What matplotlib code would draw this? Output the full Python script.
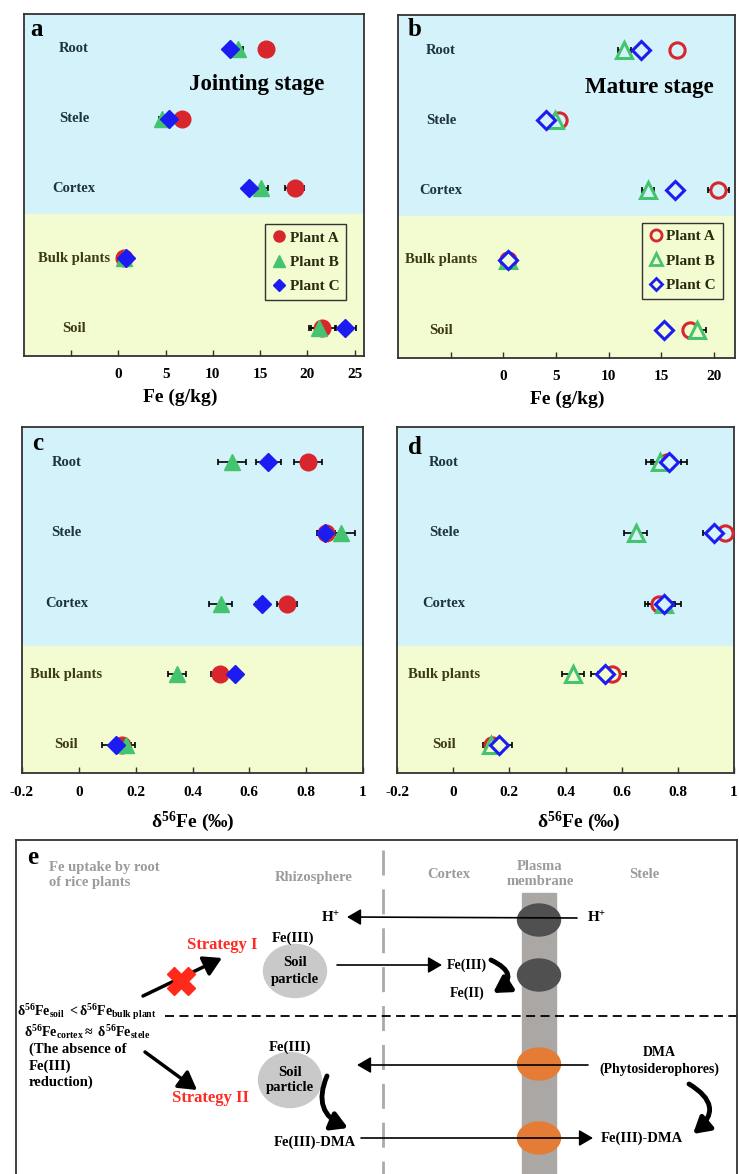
import matplotlib
matplotlib.use('Agg')
import matplotlib.pyplot as plt
from matplotlib.lines import Line2D
from matplotlib.patches import Ellipse, Rectangle, FancyArrowPatch

# categories (top to bottom)
categories = ['Root', 'Stele', 'Cortex', 'Bulk plants', 'Soil']
plants = ['Plant A', 'Plant B', 'Plant C']

# a: Fe (g/kg), jointing stage
fe_joint_A = [15.6, 6.7, 18.65, 0.64, 21.6]
fe_joint_A_err = [0.5, 0.4, 1.0, 0.3, 1.4]
fe_joint_B = [12.7, 4.6, 15.1, 0.6, 21.2]
fe_joint_B_err = [0.5, 0.3, 0.7, 0.2, 0.8]
fe_joint_C = [11.8, 5.3, 13.8, 0.85, 24.0]
fe_joint_C_err = [0.4, 0.3, 0.4, 0.2, 1.1]

# b: Fe (g/kg), mature stage
fe_mature_A = [16.5, 5.3, 20.4, 0.42, 17.7]
fe_mature_A_err = [0.4, 0.3, 1.0, 0.2, 0.5]
fe_mature_B = [11.5, 4.9, 13.75, 0.4, 18.4]
fe_mature_B_err = [0.6, 0.3, 0.6, 0.2, 0.8]
fe_mature_C = [13.1, 4.1, 16.3, 0.42, 15.3]
fe_mature_C_err = [0.3, 0.3, 0.6, 0.2, 0.5]

# c: d56Fe, jointing stage
d56_joint_A = [0.806, 0.87, 0.734, 0.496, 0.153]
d56_joint_A_err = [0.05, 0.03, 0.035, 0.03, 0.03]
d56_joint_B = [0.538, 0.922, 0.499, 0.346, 0.167]
d56_joint_B_err = [0.049, 0.05, 0.04, 0.032, 0.03]
d56_joint_C = [0.667, 0.868, 0.644, 0.55, 0.13]
d56_joint_C_err = [0.045, 0.03, 0.02, 0.02, 0.05]

# d: d56Fe, mature stage
d56_mature_A = [0.76, 0.968, 0.733, 0.567, 0.14]
d56_mature_A_err = [0.05, 0.03, 0.05, 0.05, 0.03]
d56_mature_B = [0.737, 0.65, 0.749, 0.427, 0.135]
d56_mature_B_err = [0.05, 0.04, 0.04, 0.04, 0.03]
d56_mature_C = [0.768, 0.928, 0.752, 0.54, 0.164]
d56_mature_C_err = [0.065, 0.04, 0.06, 0.05, 0.045]

fe_ticks_a = [-5, 0, 5, 10, 15, 20, 25]
fe_ticklabels_a = ['', '0', '5', '10', '15', '20', '25']
fe_ticks_b = [-5, 0, 5, 10, 15, 20]
fe_ticklabels_b = ['', '0', '5', '10', '15', '20']
d56_ticks = [-0.2, 0, 0.2, 0.4, 0.6, 0.8, 1.0]
d56_ticklabels = ['-0.2', '0', '0.2', '0.4', '0.6', '0.8', '1']

colors = ['#d8262c', '#44c46e', '#1c1cf2']
markers = ['o', '^', 'D']
blue_bg = '#d3f2fa'
yellow_bg = '#f3fbd0'

plt.rcParams['font.family'] = ['Liberation Serif', 'DejaVu Serif']
plt.rcParams['font.weight'] = 'bold'
plt.rcParams['axes.labelweight'] = 'bold'
plt.rcParams['mathtext.fontset'] = 'custom'
plt.rcParams['mathtext.rm'] = 'Liberation Serif:bold'
plt.rcParams['mathtext.bf'] = 'Liberation Serif:bold'
plt.rcParams['mathtext.it'] = 'Liberation Serif:italic:bold'

fig = plt.figure(figsize=(7.39, 11.74), dpi=100)


def panel(rect, series, errs, filled, xlim, ticks, ticklabels, split, letter,
          letter_pos, stage, stage_pos, leg_pos, xlabel, xlabel_pos, cat_x):
    ax = fig.add_axes(rect)
    ypos = list(range(len(categories) - 1, -1, -1))
    ax.set_xticks(ticks)
    ax.set_xticklabels(ticklabels)
    ax.set_xlim(*xlim)
    ax.set_ylim(-0.4, 4.5)
    ax.axhspan(split, 4.5, color=blue_bg, zorder=0)
    ax.axhspan(-0.4, split, color=yellow_bg, zorder=0)
    for i in range(3):
        ax.errorbar(series[i], ypos, xerr=errs[i], fmt='none', ecolor='black',
                    elinewidth=1.2, capsize=2.5, capthick=1.2, zorder=2)
        if filled:
            ax.plot(series[i], ypos, ls='none', marker=markers[i], color=colors[i],
                    ms=12 if i < 2 else 9.5, zorder=3 + i)
        else:
            for upper, bg in [(True, blue_bg), (False, yellow_bg)]:
                xs = [x for x, y in zip(series[i], ypos) if (y > split) == upper]
                ys = [y for y in ypos if (y > split) == upper]
                ax.plot(xs, ys, ls='none', marker=markers[i], mfc=bg,
                        mec=colors[i], mew=2.2, ms=11 if i < 2 else 9, zorder=3 + i)
    for y, c in zip(ypos, categories):
        ax.text(cat_x, y, c, transform=ax.get_yaxis_transform(), ha='center',
                va='center', fontsize=10.5,
                color='#1d3340' if y > split else '#3d3b12')
    ax.set_yticks([])
    ax.tick_params(axis='x', direction='in', length=4, width=1, color='#333333',
                   labelsize=11, pad=9)
    for s in ax.spines.values():
        s.set_color('#333333')
        s.set_linewidth(1.3)
    ax.set_xlabel(xlabel, fontsize=14)
    ax.xaxis.set_label_coords(*xlabel_pos)
    ax.text(*letter_pos, letter, transform=ax.transAxes, fontsize=18,
            ha='center', va='center')
    if stage:
        ax.text(*stage_pos, stage, transform=ax.transAxes, fontsize=16.5,
                ha='center', va='center')
    if leg_pos is not None:
        if filled:
            handles = [Line2D([], [], ls='none', marker=markers[i], color=colors[i],
                              ms=8 if i < 2 else 6) for i in range(3)]
        else:
            handles = [Line2D([], [], ls='none', marker=markers[i], mfc='none',
                              mec=colors[i], mew=2, ms=8 if i < 2 else 6)
                       for i in range(3)]
        leg = ax.legend(handles, plants, loc='upper left', bbox_to_anchor=leg_pos,
                        borderaxespad=0, fontsize=11, handlelength=0.9,
                        handletextpad=0.25, labelspacing=0.7, borderpad=0.45,
                        fancybox=False, framealpha=1, facecolor=yellow_bg,
                        edgecolor='#333333')
        leg.get_frame().set_linewidth(1.0)
        for t in leg.get_texts():
            t.set_color('#2a2a10')
    return ax


panel([24 / 739, 1 - 356 / 1174, 340 / 739, 342 / 1174],
      [fe_joint_A, fe_joint_B, fe_joint_C],
      [fe_joint_A_err, fe_joint_B_err, fe_joint_C_err], True,
      (-10, 26), fe_ticks_a, fe_ticklabels_a, 1.63, 'a', (0.038, 0.956),
      'Jointing stage', (0.685, 0.795), (0.709, 0.386), 'Fe (g/kg)',
      (0.459, -0.095), 0.147)

panel([398 / 739, 1 - 358 / 1174, 337 / 739, 343 / 1174],
      [fe_mature_A, fe_mature_B, fe_mature_C],
      [fe_mature_A_err, fe_mature_B_err, fe_mature_C_err], False,
      (-10, 22), fe_ticks_b, fe_ticklabels_b, 1.63, 'b', (0.049, 0.959),
      'Mature stage', (0.745, 0.79), (0.724, 0.394), 'Fe (g/kg)',
      (0.503, -0.095), 0.128)

panel([22 / 739, 1 - 773 / 1174, 341 / 739, 346 / 1174],
      [d56_joint_A, d56_joint_B, d56_joint_C],
      [d56_joint_A_err, d56_joint_B_err, d56_joint_C_err], True,
      (-0.2, 1.0), d56_ticks, d56_ticklabels, 1.4, 'c', (0.045, 0.952),
      None, None, None, r'$\mathrm{δ^{56}Fe\ (‰)}$', (0.5, -0.105), 0.13)

panel([397 / 739, 1 - 773 / 1174, 337 / 739, 346 / 1174],
      [d56_mature_A, d56_mature_B, d56_mature_C],
      [d56_mature_A_err, d56_mature_B_err, d56_mature_C_err], False,
      (-0.2, 1.0), d56_ticks, d56_ticklabels, 1.4, 'd', (0.052, 0.942),
      None, None, None, r'$\mathrm{δ^{56}Fe\ (‰)}$', (0.54, -0.105), 0.139)

# e: schematic, drawn in pixel-like coordinates
ax = fig.add_axes([16 / 739, 0, 721 / 739, 334 / 1174])
ax.set_xlim(16, 737)
ax.set_ylim(1174, 840)
ax.set_xticks([])
ax.set_yticks([])
ax.spines['bottom'].set_visible(False)
for s in ['top', 'left', 'right']:
    ax.spines[s].set_color('#333333')
    ax.spines[s].set_linewidth(1.3)

gray_txt = '#9b9b9b'
red_txt = '#ff2a22'

ax.add_patch(Rectangle((522, 893), 34, 290, color='#aba7a5', zorder=1))
ax.plot([383, 383], [850, 1174], color='#aaaaaa', lw=2, dashes=(9, 5), zorder=1)
ax.plot([165, 737], [1016, 1016], color='black', lw=1.3, dashes=(5, 3), zorder=1)

for yc in [920, 975]:
    ax.add_patch(Ellipse((539, yc), 43, 32, color='#505050', zorder=2))
for yc in [1064, 1138]:
    ax.add_patch(Ellipse((539, yc), 43, 32, color='#e57c35', zorder=2))
ax.add_patch(Ellipse((295, 971), 63, 53, color='#c9c9c9', zorder=2))
ax.add_patch(Ellipse((290, 1080), 63, 55, color='#c9c9c9', zorder=2))

ax.text(33, 857, 'e', fontsize=18, ha='center', va='center')
ax.text(49, 861, 'Fe uptake by root\nof rice plants', fontsize=10.5, color=gray_txt,
        ha='left', va='top', linespacing=1.2)
ax.text(314, 877, 'Rhizosphere', fontsize=10.5, color=gray_txt, ha='center', va='center')
ax.text(449, 875, 'Cortex', fontsize=10.5, color=gray_txt, ha='center', va='center')
ax.text(540, 874, 'Plasma\nmembrane', fontsize=10.5, color=gray_txt, ha='center',
        va='center', linespacing=1.15)
ax.text(644, 875, 'Stele', fontsize=10.5, color=gray_txt, ha='center', va='center')

ax.text(331, 918, r'$\mathrm{H^{+}}$', fontsize=11, ha='center', va='center')
ax.text(597, 918, r'$\mathrm{H^{+}}$', fontsize=11, ha='center', va='center')
ax.text(293, 938, 'Fe(III)', fontsize=10.5, ha='center', va='center')
ax.text(295, 971, 'Soil\nparticle', fontsize=10.5, ha='center', va='center',
        linespacing=1.3, zorder=3)
ax.text(290, 1047, 'Fe(III)', fontsize=10.5, ha='center', va='center')
ax.text(290, 1080, 'Soil\nparticle', fontsize=10.5, ha='center', va='center',
        linespacing=1.3, zorder=3)
ax.text(467, 965, 'Fe(III)', fontsize=10, ha='center', va='center')
ax.text(467, 993, 'Fe(II)', fontsize=10, ha='center', va='center')
ax.text(222, 945, 'Strategy I', fontsize=12, color=red_txt, ha='center', va='center')
ax.text(211, 1098, 'Strategy II', fontsize=12, color=red_txt, ha='center', va='center')
ax.text(17, 1012, r'$\mathrm{δ^{56}Fe_{soil}\ <δ^{56}Fe_{bulk\ plant}}$',
        fontsize=10, ha='left', va='center')
ax.text(24, 1032, r'$\mathrm{δ^{56}Fe_{cortex}\approx\ δ^{56}Fe_{stele}}$',
        fontsize=10, ha='left', va='center')
ax.text(29, 1043, '(The absence of\nFe(III)\nreduction)', fontsize=10.5,
        ha='left', va='top', linespacing=1.25)
ax.text(659, 1061, 'DMA\n(Phytosiderophores)', fontsize=10, ha='center',
        va='center', linespacing=1.3)
ax.text(315, 1142, 'Fe(III)-DMA', fontsize=10.5, ha='center', va='center')
ax.text(642, 1138, 'Fe(III)-DMA', fontsize=10.5, ha='center', va='center')


def arrow(p0, p1, lw=1.2, head=7, rad=0.0, z=4):
    ax.add_patch(FancyArrowPatch(p0, p1, arrowstyle=f'-|>,head_length={head * 0.06},head_width={head * 0.035}',
                                 connectionstyle=f'arc3,rad={rad}', lw=lw,
                                 color='black', mutation_scale=20, zorder=z,
                                 shrinkA=0, shrinkB=0))


arrow((577, 918), (347, 917))
arrow((337, 965), (442, 965))
arrow((588, 1065), (357, 1065))
arrow((361, 1138), (593, 1138))
arrow((143, 996), (222, 958), lw=2.5, head=9)
arrow((145, 1052), (197, 1090), lw=2.5, head=9)
arrow((491, 960), (493, 993), lw=3.5, head=8, rad=-0.9)
arrow((327, 1076), (348, 1128), lw=3.5, head=8, rad=0.5)
arrow((689, 1084), (693, 1134), lw=3.5, head=8, rad=-0.7)

ax.plot([181], [981], ls='none', marker='X', ms=20, color='#ff2a1a', mec='#ff2a1a',
        zorder=5)

fig.savefig('out.png', dpi=100)
